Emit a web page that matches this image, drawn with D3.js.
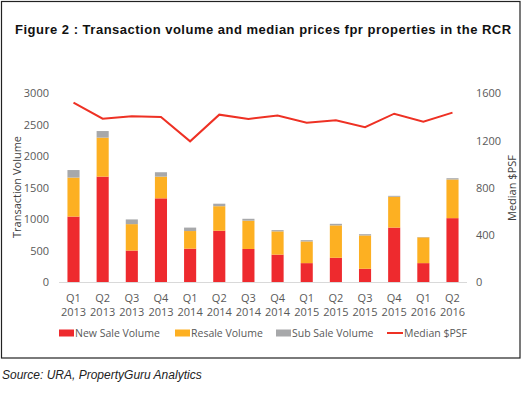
<!DOCTYPE html>
<html>
<head>
<meta charset="utf-8">
<script src="https://cdn.jsdelivr.net/npm/d3@7"></script>
<style>
  body { margin: 0; background: #fff; }
  text { font-family: "Open Sans", "Noto Sans", sans-serif; }
</style>
</head>
<body>
<div id="chart"></div>
<script>
// chart data
const quarters = ['Q1','Q2','Q3','Q4','Q1','Q2','Q3','Q4','Q1','Q2','Q3','Q4','Q1','Q2'];
const years = ['2013','2013','2013','2013','2014','2014','2014','2014','2015','2015','2015','2015','2016','2016'];
const newSale = [1040, 1675, 500, 1330, 530, 815, 525, 435, 300, 385, 210, 865, 300, 1015];
const resale = [620, 620, 420, 345, 280, 390, 450, 370, 345, 515, 530, 490, 410, 615];
const subSale = [120, 105, 75, 70, 55, 40, 30, 20, 20, 25, 20, 15, 5, 20];
const medianPsf = [1521, 1385, 1405, 1400, 1193, 1419, 1383, 1411, 1351, 1371, 1312, 1427, 1360, 1436];
const leftTicks = [0, 500, 1000, 1500, 2000, 2500, 3000];
const rightTicks = [0, 400, 800, 1200, 1600];

const W = 527, H = 394;
const svg = d3.select('#chart').append('svg')
  .attr('width', W)
  .attr('height', H);

//outer box
svg.append('rect').attr('x', 1.5).attr('y', 1.5).attr('width', 518.5).attr('height', 356.5)
  .style('fill', 'none').style('stroke', '#222').style('stroke-width', 1.2);

svg.append('text')
  .attr('x', 15).attr('y', 34)
  .style('font-family', '"Liberation Sans", Arial, sans-serif')
  .style('font-weight', 'bold')
  .style('font-size', '13px')
  .style('letter-spacing', '0.5px')
  .style('fill', '#111')
  .text('Figure 2 : Transaction volume and median prices fpr properties in the RCR');

const keys = quarters.map((q, i) => i);
const x = d3.scaleBand().domain(keys).range([59, 467]).paddingInner(0.585).paddingOuter(0.29);
const yL = d3.scaleLinear().domain([0, 3000]).range([282, 93.3]);
const yR = d3.scaleLinear().domain([0, 1600]).range([282, 93.3]);

//stacked bars
const rows = keys.map(i => ({i: i, newSale: newSale[i], resale: resale[i], subSale: subSale[i]}));
const stack = d3.stack().keys(['newSale', 'resale', 'subSale'])(rows);
const colors = {newSale: '#EE2A2E', resale: '#FDB022', subSale: '#A7A8AA'};

svg.append('g').selectAll('g').data(stack).join('g')
  .style('fill', d => colors[d.key])
  .selectAll('rect').data(d => d).join('rect')
  .attr('x', d => x(d.data.i))
  .attr('width', x.bandwidth())
  .attr('y', d => yL(d[1]))
  .attr('height', d => yL(d[0]) - yL(d[1]));

//baseline
svg.append('line').attr('x1', 59).attr('x2', 467).attr('y1', 282.5).attr('y2', 282.5)
  .style('stroke', '#d9d9d9').style('stroke-width', 1);

//left axis
const axL = svg.append('g').attr('transform', 'translate(49,0)')
  .call(d3.axisLeft(yL).tickValues(leftTicks).tickFormat(d3.format('d')).tickSize(0).tickPadding(0));
axL.select('.domain').remove();
axL.selectAll('text').style('font-size', '11px').style('fill', '#595959')
  .style('font-family', '"Open Sans", sans-serif');

//right axis
const axR = svg.append('g').attr('transform', 'translate(476,0)')
  .call(d3.axisRight(yR).tickValues(rightTicks).tickFormat(d3.format('d')).tickSize(0).tickPadding(0));
axR.select('.domain').remove();
axR.selectAll('text').style('font-size', '11px').style('fill', '#595959')
  .style('font-family', '"Open Sans", sans-serif');

//axis titles
svg.append('text')
  .attr('transform', 'translate(21,187) rotate(-90)')
  .attr('text-anchor', 'middle')
  .style('font-size', '11px').style('fill', '#404040')
  .text('Transaction Volume');
svg.append('text')
  .attr('transform', 'translate(516,188) rotate(-90)')
  .attr('text-anchor', 'middle')
  .style('font-size', '11px').style('fill', '#404040')
  .text('Median $PSF');

//x labels
const xl = svg.append('g').selectAll('text').data(keys).join('text')
  .attr('x', i => x(i) + x.bandwidth() / 2)
  .attr('text-anchor', 'middle')
  .style('font-size', '11px').style('fill', '#595959');
xl.append('tspan').attr('x', i => x(i) + x.bandwidth() / 2).attr('y', 302).text(i => quarters[i]);
xl.append('tspan').attr('x', i => x(i) + x.bandwidth() / 2).attr('y', 316).text(i => years[i]);

//median line
const line = d3.line()
  .x((d, i) => x(i) + x.bandwidth() / 2)
  .y(d => yR(d));
svg.append('path').datum(medianPsf)
  .attr('d', line)
  .style('fill', 'none').style('stroke', '#EE3124').style('stroke-width', 2);

//legend
const legend = [
  {name: 'New Sale Volume', type: 'rect', color: colors.newSale, x: 59},
  {name: 'Resale Volume', type: 'rect', color: colors.resale, x: 175},
  {name: 'Sub Sale Volume', type: 'rect', color: colors.subSale, x: 276},
  {name: 'Median $PSF', type: 'line', color: '#EE3124', x: 387}
];
const lg = svg.append('g').selectAll('g').data(legend).join('g')
  .attr('transform', d => `translate(${d.x},333)`);
lg.filter(d => d.type === 'rect').append('rect')
  .attr('x', 0).attr('y', -3.5).attr('width', 15).attr('height', 7)
  .style('fill', d => d.color);
lg.filter(d => d.type === 'line').append('line')
  .attr('x1', 0).attr('x2', 16).attr('y1', 0).attr('y2', 0)
  .style('stroke', d => d.color).style('stroke-width', 2);
lg.append('text')
  .attr('x', d => d.type === 'line' ? 17 : 16).attr('y', 4)
  .style('font-size', '10.5px').style('fill', '#595959')
  .text(d => d.name);

//source
svg.append('text')
  .attr('x', 2).attr('y', 379)
  .style('font-family', '"Liberation Sans", Arial, sans-serif')
  .style('font-style', 'italic')
  .style('font-size', '12px')
  .style('fill', '#222')
  .text('Source: URA, PropertyGuru Analytics');
</script>
</body>
</html>
